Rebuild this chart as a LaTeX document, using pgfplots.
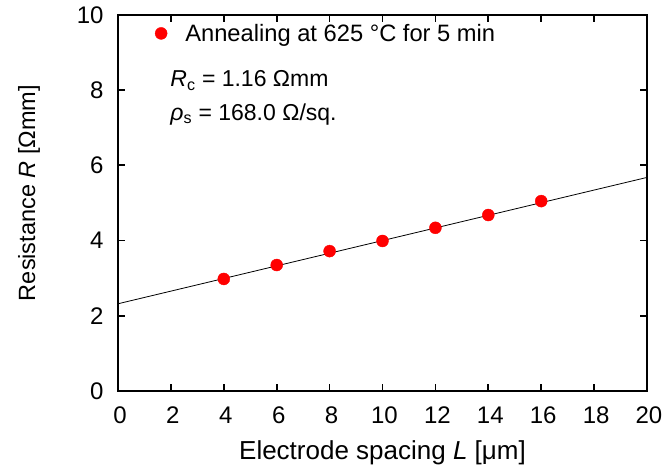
\documentclass[border=0pt]{standalone}
\usepackage{pgfplots}
\pgfplotsset{compat=1.18}
\usepackage{fontspec}
\setmainfont{Liberation Sans}
\begin{document}
\begin{tikzpicture}
\begin{axis}[
  name=ax,
  scale only axis,
  width=529pt, height=376pt,
  xmin=0, xmax=20, ymin=0, ymax=10,
  xtick={0,2,...,20}, ytick={0,2,...,10},
  tick align=inside,
  major tick length=7pt,
  every tick/.style={black, line width=1.8pt},
  axis line style={line width=2.2pt},
  /pgf/number format/assume math mode=true,
  tick label style={font=\fontsize{24}{24}\selectfont},
  xticklabel style={yshift=-12pt, xshift=2pt},
  yticklabel style={xshift=-11pt},
  xlabel={Electrode spacing \textit{L} [μm]},
  ylabel={Resistance \textit{R} [Ωmm]},
  xlabel style={font=\fontsize{26}{26}\selectfont, yshift=-10pt},
  ylabel style={font=\fontsize{23.5}{23.5}\selectfont, yshift=30pt, xshift=10pt},
  legend style={draw=none, fill=none, at={(0.06,0.987)}, anchor=north west,
    font=\fontsize{23.7}{23.7}\selectfont, legend cell align=left},
  legend image code/.code={\path (-8pt,0) (22pt,0); \draw[#1] plot coordinates {(0pt,0pt)};},
]
\addplot[only marks, mark=*, mark size=6pt, color={rgb,255:red,255;green,0;blue,0}] coordinates {
(4,2.98) (6,3.35) (8,3.72) (10,3.99) (12,4.34) (14,4.68) (16,5.05)
};
\addlegendentry{Annealing at 625 °C for 5 min}
\addplot[black, line width=0.8pt, forget plot] coordinates {(0,2.32) (20,5.68)};
\node[anchor=west, font=\fontsize{23}{23}\selectfont] at (axis cs:1.85,8.25) {\textit{R}\textsubscript{c} = 1.16 Ωmm};
\node[anchor=west, font=\fontsize{23}{23}\selectfont] at (axis cs:1.85,7.36) {\textit{ρ}\textsubscript{s} = 168.0 Ω/sq.};
\end{axis}
\pgfresetboundingbox
\path ([xshift=-118pt,yshift=-84pt]ax.south west) rectangle ([xshift=20pt,yshift=15pt]ax.north east);
\end{tikzpicture}
\end{document}
